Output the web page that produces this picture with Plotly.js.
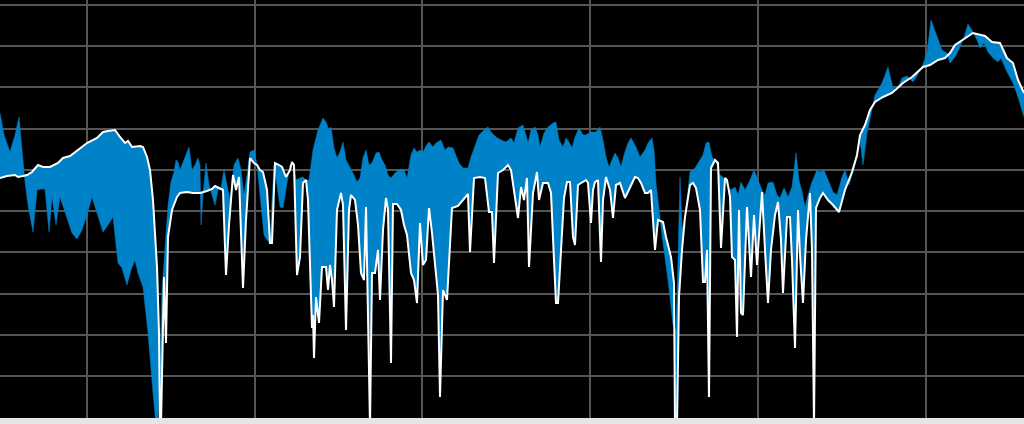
<!DOCTYPE html>
<html>
<head>
<meta charset="utf-8">
<script src="https://cdn.plot.ly/plotly-3.0.1.min.js"></script>
<style>
  html, body { margin: 0; padding: 0; background: #e5e5e5; }
  #chart { width: 1024px; height: 424px; }
</style>
</head>
<body>
<div id="chart"></div>
<script>
// Main (white) series
const mainX = [
  0,7,15,18,23,27,32,38,43,50,
  58,63,70,80,87,97,103,108,115,120,
  125,128,132,140,143,147,150,153,157,159,
  160,161,164,166,168,172,177,180,187,193,
  200,207,212,215,220,223,226,229,233,236,
  239,243,246,250,254,257,260,263,267,270,
  272,275,279,282,286,290,292,294,297,300,
  303,306,308,310,312,313,314,316,319,322,
  326,328,330,332,334,337,341,343,346,349,
  351,355,358,361,364,366,368,370,372,375,
  378,380,383,386,388,391,393,397,401,404,
  407,411,414,417,420,423,426,429,432,435,
  438,440,443,447,452,458,463,468,470,474,
  480,485,489,492,494,498,503,508,511,515,
  518,521,524,527,529,533,537,539,543,548,
  551,554,556,558,561,564,567,570,573,575,
  578,583,586,588,591,593,595,598,601,603,
  606,610,613,616,620,625,630,635,638,641,
  645,648,651,655,658,663,666,671,674,675,
  677,679,682,685,690,693,696,700,703,705,
  707,709,711,715,718,721,725,727,730,732,
  735,737,739,741,743,747,751,754,757,762,
  765,768,771,775,778,781,783,787,790,792,
  795,798,800,803,806,810,812,814,816,820,
  823,828,833,839,845,852,857,860,865,870,
  875,883,892,897,903,912,918,923,930,938,
  945,950,955,960,967,973,980,985,992,1000,
  1007,1013,1018,1024
];
const mainY = [
  240,242,243,241,242,243,246,253,251,251,
  255,260,262,270,275,280,286,287,288,281,
  275,277,271,272,271,261,248,218,151,85,
  -7,-7,141,75,181,208,221,225,226,225,
  225,227,229,232,230,228,143,193,243,228,
  241,130,198,260,255,253,248,246,228,175,
  175,255,253,251,241,248,256,253,143,161,
  235,238,218,146,90,103,60,121,95,151,
  151,128,153,138,111,208,225,213,88,208,
  223,218,193,145,138,211,118,-7,145,145,
  168,118,188,220,208,55,214,214,208,193,
  183,145,138,115,195,153,158,210,185,153,
  123,21,128,118,210,212,218,224,166,240,
  241,240,206,206,155,245,248,253,248,221,
  200,231,218,240,151,225,246,218,235,235,
  225,158,115,115,168,220,236,236,181,173,
  233,236,238,235,195,228,236,238,156,218,
  241,228,200,233,235,220,231,241,240,235,
  225,225,228,168,198,196,181,161,135,-7,
  -7,121,168,201,233,235,230,208,136,136,
  168,21,250,258,255,170,240,238,221,161,
  158,81,208,105,103,211,141,203,153,226,
  168,115,168,203,216,178,125,201,201,158,
  70,208,163,115,178,225,168,-7,210,220,
  225,218,213,206,228,246,263,283,293,308,
  316,321,325,330,335,341,346,351,353,358,
  360,365,373,376,381,385,383,382,376,375,
  360,355,338,325
];

// Band (blue) series
const bandX = [
  0,4,10,15,19,22,24,25,28,33,
  37,41,45,49,52,56,60,66,72,77,
  82,87,92,97,103,108,113,118,122,127,
  131,135,138,143,148,153,156,158,160,162,
  164,166,168,171,174,176,178,180,183,186,
  189,192,195,198,200,201,203,206,209,212,
  215,218,221,224,227,230,234,238,241,244,
  247,250,254,257,260,264,267,270,272,274,
  277,280,283,286,290,293,296,300,303,306,
  309,313,318,323,326,329,331,334,337,340,
  343,346,350,354,357,360,363,366,369,372,
  376,379,382,385,388,391,395,400,404,407,
  411,414,417,420,423,426,429,433,436,441,
  445,448,453,456,459,463,468,471,474,479,
  484,488,491,496,501,506,511,514,518,523,
  526,528,531,535,538,540,544,548,553,556,
  559,563,566,569,572,575,579,583,586,590,
  596,600,603,606,609,612,615,618,621,624,
  628,631,636,640,645,648,652,654,656,662,
  668,673,676,678,680,682,685,688,690,695,
  700,703,706,709,712,716,720,723,727,731,
  735,738,741,745,750,754,758,762,765,768,
  773,777,780,784,788,792,796,799,802,805,
  808,812,817,820,824,828,833,837,842,845,
  849,853,857,860,863,867,872,875,882,888,
  893,897,902,907,913,917,922,927,931,936,
  942,947,950,955,960,964,968,973,977,980,
  984,988,993,998,1001,1007,1013,1018,1024
];
const bandY = [
  305,283,266,283,301,268,240,236,213,186,
  228,229,229,186,221,193,221,203,185,179,
  188,203,221,205,186,193,201,155,150,133,
  148,158,145,131,85,25,-7,-7,58,128,
  156,190,213,236,246,258,256,248,256,263,
  271,248,253,260,253,193,223,255,233,223,
  213,228,230,248,233,218,253,260,248,223,
  243,266,268,253,223,183,178,175,218,253,
  233,211,210,228,253,256,238,240,241,238,
  238,268,288,300,296,288,291,270,260,266,
  276,258,251,243,236,240,260,268,253,255,
  265,266,258,253,243,240,245,249,248,240,
  263,270,266,268,266,272,276,271,275,278,
  268,271,270,263,255,250,250,261,270,283,
  288,291,286,281,278,276,280,275,290,293,
  283,275,288,291,283,271,285,291,295,296,
  278,271,280,276,270,281,290,283,283,286,
  286,291,278,261,251,258,265,260,251,263,
  275,280,271,261,268,275,280,268,235,183,
  138,93,88,158,241,188,203,228,246,250,
  258,263,275,276,261,256,243,241,233,228,
  231,223,236,228,238,248,238,228,223,235,
  236,223,220,230,221,231,265,238,226,211,
  223,236,248,246,248,238,226,223,241,248,
  233,246,260,278,253,285,308,323,335,351,
  330,328,340,342,336,342,351,365,398,385,
  368,365,355,361,371,381,394,386,378,370,
  375,366,360,356,360,346,335,321,301
];

const BLUE = '#0082c8';

const traces = [
  {
    x: bandX, y: bandY, type: 'scatter', mode: 'lines',
    line: { color: BLUE, width: 0.5 },
    hoverinfo: 'skip', showlegend: false
  },
  {
    x: mainX, y: mainY, type: 'scatter', mode: 'lines',
    fill: 'tonexty', fillcolor: BLUE,
    line: { color: '#ffffff', width: 2 },
    hoverinfo: 'skip', showlegend: false
  }
];

const layout = {
  width: 1024, height: 424,
  margin: { l: 0, r: 0, t: 0, b: 6, pad: 0 },
  paper_bgcolor: '#e5e5e5',
  plot_bgcolor: '#000000',
  showlegend: false,
  xaxis: {
    range: [0, 1024], tick0: 86.7, dtick: 167.86,
    showgrid: true, gridcolor: '#555555', gridwidth: 2,
    zeroline: false, showline: false, showticklabels: false, ticks: ''
  },
  yaxis: {
    range: [0, 418], tick0: 0.4, dtick: 41.29,
    showgrid: true, gridcolor: '#555555', gridwidth: 2,
    zeroline: false, showline: false, showticklabels: false, ticks: ''
  }
};

Plotly.newPlot('chart', traces, layout, { staticPlot: true, displayModeBar: false });
</script>
</body>
</html>
